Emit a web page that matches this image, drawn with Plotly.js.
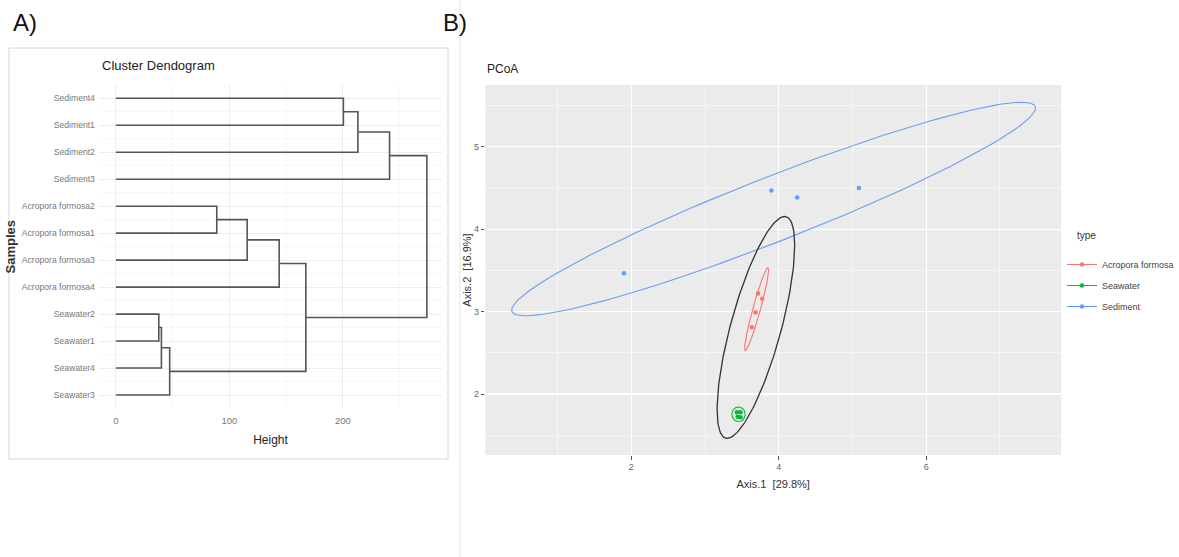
<!DOCTYPE html>
<html>
<head>
<meta charset="utf-8">
<script src="https://cdn.plot.ly/plotly-3.0.1.min.js"></script>
<style>html,body{margin:0;padding:0;background:#fff;overflow:hidden;width:1179px;height:557px;}#chart{width:1179px;height:557px;overflow:hidden;}</style>
</head>
<body>
<div id="chart"></div>
<script>
// ---------- Panel A: dendrogram data ----------
const leafLabels = ['Sediment4','Sediment1','Sediment2','Sediment3',
  'Acropora formosa2','Acropora formosa1','Acropora formosa3','Acropora formosa4',
  'Seawater2','Seawater1','Seawater4','Seawater3'];
// hclust-style merges: negative = leaf (1-based, display order), positive = earlier merge
const mergeA = [-1, 1, 2, -5, 4, 5, -9, 7, 8, 6, 3];
const mergeB = [-2, -3, -4, -6, -7, -8, -10, -11, -12, 9, 10];
const mergeHeight = [200.5, 213.3, 241.2, 88.9, 115.7, 143.9, 37.8, 40.1, 47.4, 167.4, 274.1];
const heightTicks = [0, 100, 200];

// ---------- Panel B: PCoA data ----------
const groups = ['Acropora formosa', 'Seawater', 'Sediment'];
const groupColors = ['#F8766D', '#00BA38', '#619CFF'];
const acroX = [3.72, 3.775, 3.685, 3.635];
const acroY = [3.22, 3.155, 2.99, 2.81];
const seaX = [3.432, 3.482, 3.443, 3.482];
const seaY = [1.778, 1.778, 1.725, 1.718];
const sedX = [1.90, 3.90, 4.25, 5.087];
const sedY = [3.465, 4.47, 4.385, 4.50];
// ellipse summaries (center, half-extent x/y, correlation)
const ellName = ['Acropora formosa', 'Seawater', 'Sediment', 'overall'];
const ellColor = ['#F8766D', '#00BA38', '#6d9fee', '#333333'];
const ellCx = [3.70, 3.455, 3.93, 3.69];
const ellCy = [3.03, 1.754, 4.245, 2.808];
const ellHx = [0.163, 0.09, 3.552, 0.526];
const ellHy = [0.504, 0.089, 1.295, 1.346];
const ellRho = [0.944, 0.0, 0.946, 0.74];
const axis1Ticks = [2, 4, 6];
const axis2Ticks = [2, 3, 4, 5];

// ---------- build dendrogram segments ----------
const node = [];
function pos(id) {
  if (id < 0) return {y: -id, h: 0};
  return node[id - 1];
}
const dx = [], dy = [];
for (let i = 0; i < mergeA.length; i++) {
  const a = pos(mergeA[i]), b = pos(mergeB[i]), h = mergeHeight[i];
  dx.push(a.h, h, h, b.h, null);
  dy.push(a.y, a.y, b.y, b.y, null);
  node.push({y: (a.y + b.y) / 2, h: h});
}
const rowIdx = leafLabels.map((_, i) => i + 1);
const rowHalf = leafLabels.map((_, i) => i + 0.5).concat([leafLabels.length + 0.5]);

const traces = [];
traces.push({
  x: dx, y: dy, xaxis: 'x', yaxis: 'y', mode: 'lines', type: 'scatter',
  line: {color: '#555555', width: 1.6}, showlegend: false, hoverinfo: 'skip'
});

// ---------- ellipses ----------
function ellipse(k) {
  const xs = [], ys = [];
  const n = 160;
  for (let i = 0; i <= n; i++) {
    const t = 2 * Math.PI * i / n;
    xs.push(ellCx[k] + ellHx[k] * Math.cos(t));
    ys.push(ellCy[k] + ellHy[k] * (ellRho[k] * Math.cos(t) + Math.sqrt(1 - ellRho[k] * ellRho[k]) * Math.sin(t)));
  }
  return {xs, ys};
}
for (let k = 0; k < ellName.length; k++) {
  const e = ellipse(k);
  traces.push({
    x: e.xs, y: e.ys, xaxis: 'x2', yaxis: 'y2', type: 'scatter', mode: 'lines',
    line: {color: ellColor[k], width: k === 3 ? 1.3 : 1.1}, showlegend: false, hoverinfo: 'skip',
    legendgroup: ellName[k]
  });
}
// ---------- points (isolated so legend key shows line + point) ----------
const ptsX = [acroX, seaX, sedX], ptsY = [acroY, seaY, sedY];
for (let g = 0; g < groups.length; g++) {
  const xs = [], ys = [];
  ptsX[g].forEach((v, i) => { xs.push(v, null); ys.push(ptsY[g][i], null); });
  traces.push({
    x: xs, y: ys, xaxis: 'x2', yaxis: 'y2', type: 'scatter', mode: 'lines+markers',
    name: groups[g], legendgroup: groups[g], connectgaps: false,
    marker: {color: groupColors[g], size: 4.5},
    line: {color: groupColors[g], width: 1}
  });
}

const W = 1179, H = 557;
const px = v => v / W;
const py = v => 1 - v / H;
const FONT = 'Liberation Sans, Arial, sans-serif';

const layout = {
  width: W, height: H,
  margin: {l: 0, r: 0, t: 0, b: 0},
  paper_bgcolor: '#ffffff', plot_bgcolor: 'rgba(0,0,0,0)',
  font: {family: FONT, color: '#333'},
  showlegend: true,
  xaxis: {
    domain: [px(100), px(447)], range: [-15, 287.5], anchor: 'y',
    tickvals: heightTicks, ticks: '', showline: false, zeroline: false,
    showgrid: true, gridcolor: '#ebebeb', gridwidth: 0.9,
    minor: {dtick: 50, tick0: 0, showgrid: true, gridcolor: '#f3f3f3', gridwidth: 0.6},
    tickfont: {size: 9.5, color: '#777', family: FONT},
    ticklabelstandoff: 5,
    title: {text: 'Height', font: {size: 12, color: '#222', family: FONT}, standoff: 10},
    automargin: false
  },
  yaxis: {
    domain: [py(408.5), py(84.8)], range: [12.5, 0.5], anchor: 'x',
    tickvals: rowIdx, ticktext: leafLabels, ticks: '', showline: false, zeroline: false,
    showgrid: true, gridcolor: '#ebebeb', gridwidth: 0.9,
    minor: {tickvals: rowHalf, showgrid: true, gridcolor: '#f3f3f3', gridwidth: 0.6},
    tickfont: {size: 8.6, color: '#777', family: FONT},
    ticklabelstandoff: 3,
    title: {text: '<b>Samples</b>', font: {size: 13, color: '#333', family: FONT}, standoff: 3},
    automargin: false
  },
  xaxis2: {
    domain: [px(490.7), px(1073)], range: [0.02, 7.83], anchor: 'y2',
    tickvals: axis1Ticks, ticks: 'outside', ticklen: 3.5, tickcolor: '#555', tickwidth: 1,
    showline: false, zeroline: false,
    showgrid: true, gridcolor: '#ffffff', gridwidth: 1.1,
    minor: {dtick: 1, tick0: 1, showgrid: true, gridcolor: '#ffffff', gridwidth: 0.5},
    tickfont: {size: 9, color: '#666', family: FONT},
    title: {text: 'Axis.1  [29.8%]', font: {size: 11, color: '#333', family: FONT}, standoff: 9},
    automargin: false
  },
  yaxis2: {
    domain: [py(455), py(85)], range: [1.26, 5.75], anchor: 'x2',
    tickvals: axis2Ticks, ticks: 'outside', ticklen: 3.5, tickcolor: '#555', tickwidth: 1,
    showline: false, zeroline: false,
    showgrid: true, gridcolor: '#ffffff', gridwidth: 1.1,
    minor: {dtick: 1, tick0: 1.5, showgrid: true, gridcolor: '#ffffff', gridwidth: 0.5},
    tickfont: {size: 9, color: '#666', family: FONT},
    title: {text: 'Axis.2  [16.9%]', font: {size: 11, color: '#333', family: FONT}, standoff: 0},
    automargin: false
  },
  legend: {
    x: px(1074), y: py(250), xanchor: 'left', yanchor: 'top',
    font: {size: 9, color: '#444', family: FONT},
    bgcolor: 'rgba(0,0,0,0)', borderwidth: 0, itemwidth: 30, tracegroupgap: 2
  },
  shapes: [
    {type: 'rect', xref: 'x2 domain', yref: 'y2 domain', x0: 0, x1: 1, y0: 0, y1: 1,
      fillcolor: '#ebebeb', line: {width: 0}, layer: 'below'},
    {type: 'rect', xref: 'paper', yref: 'paper', x0: px(9), x1: px(453), y0: py(459), y1: py(48),
      fillcolor: 'rgba(0,0,0,0)', line: {color: '#d6d6d6', width: 1}, layer: 'below'},
    {type: 'line', xref: 'paper', yref: 'paper', x0: px(465), x1: px(465), y0: 0, y1: 1,
      line: {color: '#e4e4e4', width: 1}}
  ],
  annotations: [
    {text: 'A)', xref: 'paper', yref: 'paper', x: px(11), y: py(23), xanchor: 'left', yanchor: 'middle',
      showarrow: false, font: {size: 24, color: '#111', family: FONT}},
    {text: 'B)', xref: 'paper', yref: 'paper', x: px(446), y: py(23), xanchor: 'left', yanchor: 'middle',
      showarrow: false, font: {size: 24, color: '#111', family: FONT}},
    {text: 'Cluster Dendogram', xref: 'paper', yref: 'paper', x: px(101), y: py(65), xanchor: 'left', yanchor: 'middle',
      showarrow: false, font: {size: 13, color: '#222', family: FONT}},
    {text: 'PCoA', xref: 'paper', yref: 'paper', x: px(490), y: py(69), xanchor: 'left', yanchor: 'middle',
      showarrow: false, font: {size: 12, color: '#222', family: FONT}},
    {text: 'type', xref: 'paper', yref: 'paper', x: px(1087), y: py(235), xanchor: 'left', yanchor: 'middle',
      showarrow: false, font: {size: 10, color: '#333', family: FONT}}
  ]
};

Plotly.newPlot('chart', traces, layout, {displayModeBar: false, staticPlot: true});
</script>
</body>
</html>
